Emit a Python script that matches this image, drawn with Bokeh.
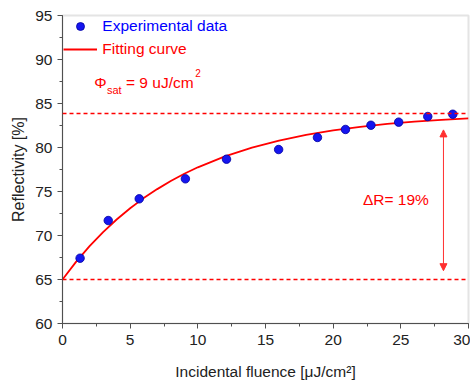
from bokeh.plotting import figure
from bokeh.models import (Span, Arrow, NormalHead, Label, Legend, LegendItem,
                          SingleIntervalTicker)
from bokeh.embed import file_html
from bokeh.resources import INLINE

# ---- data ----
fluence = [1.30, 3.38, 5.67, 9.08, 12.12, 15.97, 18.84, 20.91, 22.79, 24.84, 26.99, 28.84]
reflectivity = [67.42, 71.70, 74.17, 76.44, 78.67, 79.77, 81.14, 82.05, 82.53, 82.88, 83.52, 83.78]

fit_x = [0, 1, 2, 3, 4, 5, 6, 7, 8, 9, 10, 12, 14, 16, 18, 20, 22, 24, 26, 28, 30]
fit_y = [65.00, 67.00, 68.79, 70.39, 71.82, 73.10, 74.25, 75.27, 76.19, 77.01, 77.75,
         78.99, 79.99, 80.79, 81.43, 81.94, 82.35, 82.68, 82.94, 83.15, 83.32]

r_low = 65.0
r_high = 83.85
arrow_x = 28.15
arrow_top = 82.0
arrow_bottom = 66.0

FONT = "Liberation Sans"
RED = "#ff0000"
BLUE = "#0000ff"

p = figure(width=470, height=383, x_range=(0, 30), y_range=(60, 95),
           output_backend="svg", toolbar_location=None,
           min_border_left=62, min_border_right=2, min_border_top=15,
           min_border_bottom=60)
p.grid.visible = False
p.outline_line_color = "#e4e4e4"
p.outline_line_width = 2

for ax in (p.xaxis[0], p.yaxis[0]):
    ax.ticker = SingleIntervalTicker(interval=5, num_minor_ticks=2)
    ax.axis_line_color = "#505050"
    ax.major_tick_line_color = "#505050"
    ax.minor_tick_line_color = "#505050"
    ax.major_tick_out = 5
    ax.major_tick_in = 0
    ax.minor_tick_out = 3
    ax.minor_tick_in = 0
    ax.major_label_text_font = FONT
    ax.major_label_text_font_size = "15.5px"
    ax.major_label_text_color = "#222222"
    ax.axis_label_text_font = FONT
    ax.axis_label_text_font_style = "normal"
    ax.axis_label_text_font_size = "15.5px"
    ax.axis_label_text_color = "#222222"

p.xaxis.axis_label = "Incidental fluence [μJ/cm²]"
p.yaxis.axis_label = "Reflectivity [%]"
p.xaxis.major_label_standoff = 6
p.xaxis.axis_label_standoff = 15
p.yaxis.major_label_standoff = 5
p.yaxis.axis_label_standoff = 5
p.yaxis.axis_label_text_font_size = "16px"

p.add_layout(Span(location=r_low, dimension="width", line_color=RED,
                  line_width=1.5, line_dash="4 3"))
p.add_layout(Span(location=r_high, dimension="width", line_color=RED,
                  line_width=1.5, line_dash="4 3"))

fit = p.line(fit_x, fit_y, line_color=RED, line_width=1.8)
sc = p.scatter(fluence, reflectivity, size=8.5, fill_color="#1515f0",
               line_color="#0000a0", line_width=0.8)

p.add_layout(Arrow(x_start=arrow_x, y_start=arrow_bottom, x_end=arrow_x, y_end=arrow_top,
                   line_color="#ff3030", line_width=1,
                   start=NormalHead(size=7, fill_color="#ff3030", line_color="#ff3030"),
                   end=NormalHead(size=7, fill_color="#ff3030", line_color="#ff3030")))

common = dict(padding=0, margin=0, spacing=0, border_line_color=None,
              background_fill_alpha=0, label_text_font=FONT,
              label_text_font_size="15.5px", glyph_width=34, glyph_height=20,
              label_height=20, label_standoff=5)
leg1 = Legend(items=[LegendItem(label="Experimental data", renderers=[sc])],
              location=(1.3, 287.5), label_text_color=BLUE, **common)
leg2 = Legend(items=[LegendItem(label="Fitting curve", renderers=[fit])],
              location=(1.3, 264.5), label_text_color=RED, **common)
p.add_layout(leg1)
p.add_layout(leg2)

lab = dict(text_font=FONT, text_color=RED, text_baseline="middle")
p.add_layout(Label(x=2.34, y=87.42, text="Φ", text_font_size="15.5px", **lab))
p.add_layout(Label(x=3.28, y=86.55, text="sat", text_font_size="11px", **lab))
p.add_layout(Label(x=4.69, y=87.40, text="= 9 uJ/cm", text_font_size="15.5px", **lab))
p.add_layout(Label(x=9.80, y=88.45, text="2", text_font_size="10px", **lab))
p.add_layout(Label(x=22.2, y=74.1, text="ΔR= 19%", text_font_size="15.5px", **lab))

open("out.html", "w").write(file_html(p, INLINE))
